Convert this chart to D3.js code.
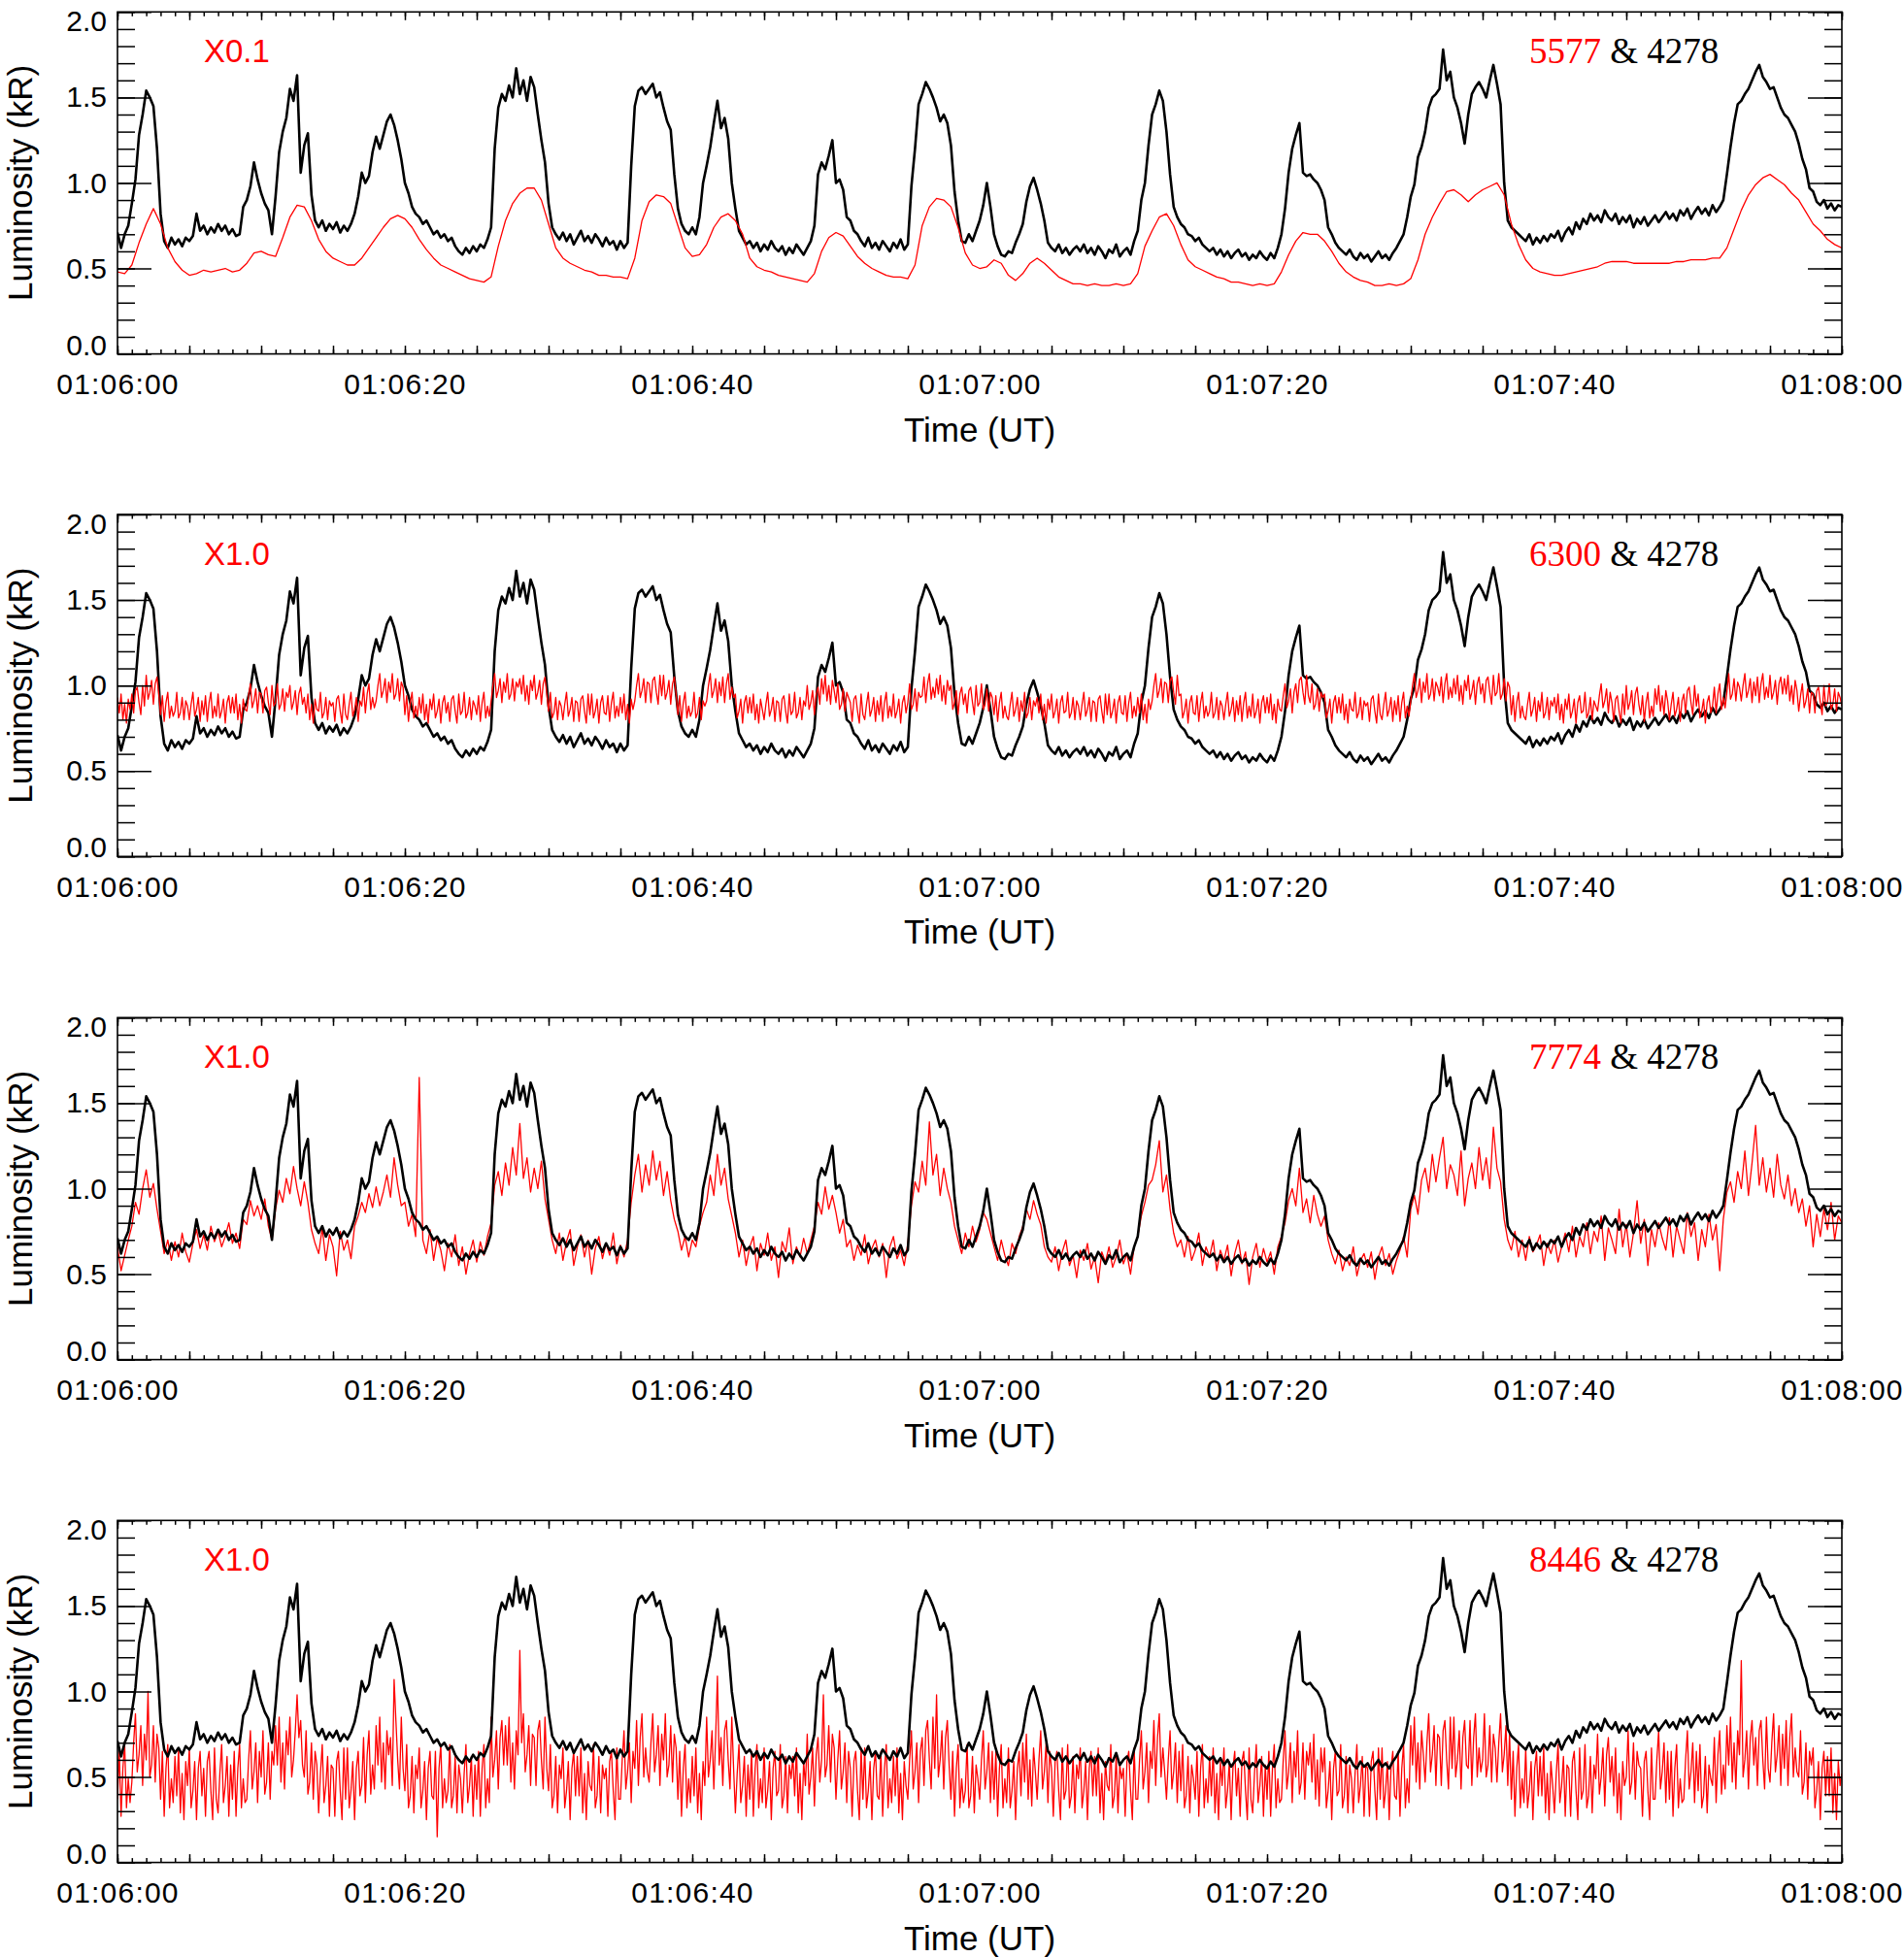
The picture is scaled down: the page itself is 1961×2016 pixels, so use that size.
<!DOCTYPE html>
<html><head><meta charset="utf-8">
<script src="https://cdn.jsdelivr.net/npm/d3@7"></script>
<style>html,body{margin:0;padding:0;background:#fff;}svg{display:block;}</style>
</head><body>
<svg id="chart" width="1961" height="2016"></svg>
<script>
// ---------------- data ----------------
const timeStart = 0, timeEnd = 120;           // seconds after 01:06:00 UT
const xTickSeconds = [0,20,40,60,80,100,120];
const xTickLabels = ["01:06:00","01:06:20","01:06:40","01:07:00","01:07:20","01:07:40","01:08:00"];
const yTickValues = [0,0.5,1.0,1.5,2.0];
const yTickLabels = ["0.0","0.5","1.0","1.5","2.0"];
const redLines = ["5577","6300","7774","8446"];
const redFactors = ["X0.1","X1.0","X1.0","X1.0"];
const blackLine = "4278";

// 4278 (kR), every 0.25 s
const lum4278 = [
0.71,0.62,0.70,0.75, 0.88,1.02,1.28,1.40,
1.54,1.50,1.45,1.20, 0.82,0.66,0.62,0.68,
0.64,0.67,0.63,0.68, 0.66,0.69,0.82,0.72,
0.75,0.70,0.74,0.71, 0.76,0.72,0.75,0.70,
0.73,0.69,0.70,0.86, 0.90,0.98,1.12,1.02,
0.94,0.88,0.84,0.70, 0.92,1.18,1.30,1.38,
1.55,1.48,1.63,1.06, 1.22,1.29,0.93,0.78,
0.74,0.78,0.72,0.76, 0.73,0.77,0.71,0.75,
0.72,0.76,0.82,0.92, 1.06,1.00,1.04,1.18,
1.27,1.20,1.28,1.36, 1.40,1.34,1.25,1.14,
1.00,0.94,0.86,0.82, 0.80,0.76,0.78,0.74,
0.70,0.72,0.68,0.70, 0.66,0.68,0.63,0.60,
0.58,0.62,0.59,0.63, 0.60,0.64,0.62,0.67,
0.74,1.20,1.44,1.52, 1.48,1.57,1.50,1.67,
1.52,1.60,1.48,1.62, 1.56,1.40,1.25,1.12,
0.88,0.74,0.70,0.67, 0.71,0.66,0.70,0.64,
0.68,0.72,0.66,0.69, 0.65,0.70,0.67,0.63,
0.68,0.64,0.66,0.61, 0.66,0.62,0.65,1.10,
1.45,1.54,1.56,1.52, 1.55,1.58,1.50,1.53,
1.44,1.36,1.31,1.05, 0.85,0.76,0.72,0.70,
0.74,0.70,0.80,1.00, 1.10,1.21,1.35,1.48,
1.32,1.38,1.26,1.00, 0.85,0.72,0.68,0.64,
0.66,0.62,0.65,0.60, 0.64,0.61,0.66,0.62,
0.60,0.63,0.58,0.62, 0.59,0.64,0.61,0.58,
0.62,0.66,0.75,1.05, 1.12,1.08,1.16,1.25,
1.00,1.02,0.96,0.80, 0.78,0.72,0.70,0.66,
0.63,0.68,0.62,0.65, 0.61,0.66,0.63,0.60,
0.65,0.62,0.67,0.61, 0.64,0.98,1.20,1.46,
1.52,1.59,1.55,1.50, 1.44,1.36,1.40,1.35,
1.22,0.95,0.78,0.66, 0.65,0.70,0.66,0.72,
0.78,0.87,1.00,0.86, 0.70,0.63,0.58,0.57,
0.60,0.59,0.65,0.70, 0.76,0.89,0.98,1.03,
0.96,0.88,0.78,0.65, 0.62,0.60,0.64,0.59,
0.62,0.58,0.61,0.63, 0.60,0.64,0.59,0.62,
0.58,0.63,0.60,0.56, 0.61,0.59,0.64,0.57,
0.60,0.62,0.58,0.66, 0.72,0.90,1.00,1.22,
1.40,1.46,1.54,1.48, 1.30,1.05,0.86,0.80,
0.76,0.74,0.70,0.69, 0.66,0.68,0.64,0.62,
0.60,0.62,0.58,0.61, 0.57,0.60,0.56,0.59,
0.61,0.57,0.59,0.55, 0.58,0.56,0.60,0.57,
0.55,0.59,0.56,0.62, 0.70,0.85,1.06,1.20,
1.28,1.35,1.06,1.04, 1.05,1.02,1.00,0.96,
0.90,0.74,0.70,0.65, 0.62,0.60,0.58,0.61,
0.57,0.55,0.59,0.56, 0.58,0.54,0.57,0.60,
0.56,0.58,0.55,0.59, 0.62,0.66,0.70,0.80,
0.92,0.99,1.15,1.21, 1.30,1.44,1.50,1.52,
1.55,1.78,1.60,1.65, 1.50,1.44,1.35,1.23,
1.40,1.52,1.56,1.59, 1.55,1.50,1.60,1.69,
1.58,1.46,1.00,0.78, 0.74,0.72,0.70,0.68,
0.66,0.70,0.64,0.68, 0.65,0.69,0.66,0.70,
0.68,0.72,0.66,0.71, 0.74,0.70,0.77,0.73,
0.79,0.76,0.82,0.78, 0.81,0.77,0.84,0.80,
0.78,0.82,0.76,0.80, 0.77,0.81,0.74,0.79,
0.76,0.80,0.75,0.78, 0.81,0.77,0.80,0.83,
0.79,0.82,0.78,0.84, 0.81,0.85,0.79,0.83,
0.86,0.82,0.85,0.81, 0.87,0.83,0.86,0.90,
1.05,1.21,1.35,1.46, 1.48,1.52,1.55,1.60,
1.65,1.69,1.62,1.59, 1.55,1.56,1.50,1.44,
1.40,1.38,1.34,1.30, 1.23,1.14,1.08,0.97,
0.95,0.89,0.87,0.90, 0.85,0.88,0.84,0.87,
0.86];

// 5577 x0.1 (kR), every 0.5 s
const lum5577 = [
0.48,0.47,0.52,0.65,0.76,0.85,0.76,0.62,0.54,0.49,0.46,0.47,0.49,0.48,0.49,0.50,0.48,0.49,0.53,0.59,
0.60,0.58,0.57,0.68,0.80,0.87,0.86,0.78,0.67,0.60,0.56,0.54,0.52,0.52,0.56,0.62,0.68,0.74,0.79,0.81,
0.79,0.74,0.67,0.61,0.56,0.52,0.50,0.48,0.46,0.44,0.43,0.42,0.45,0.63,0.78,0.88,0.94,0.97,0.97,0.90,
0.76,0.62,0.56,0.53,0.51,0.49,0.48,0.46,0.46,0.45,0.45,0.44,0.56,0.78,0.89,0.93,0.92,0.88,0.75,0.62,
0.57,0.58,0.64,0.74,0.80,0.82,0.78,0.70,0.56,0.51,0.49,0.48,0.46,0.45,0.44,0.43,0.42,0.47,0.60,0.68,
0.71,0.69,0.63,0.57,0.53,0.50,0.48,0.46,0.45,0.45,0.44,0.52,0.75,0.86,0.91,0.90,0.86,0.74,0.59,0.52,
0.50,0.51,0.55,0.53,0.46,0.43,0.47,0.53,0.56,0.53,0.49,0.45,0.43,0.41,0.41,0.40,0.41,0.40,0.40,0.41,
0.40,0.41,0.47,0.63,0.72,0.80,0.82,0.75,0.64,0.55,0.51,0.49,0.47,0.45,0.44,0.42,0.42,0.41,0.40,0.41,
0.40,0.41,0.48,0.58,0.66,0.71,0.70,0.70,0.66,0.60,0.53,0.48,0.45,0.43,0.42,0.40,0.40,0.41,0.40,0.41,
0.44,0.55,0.70,0.80,0.88,0.95,0.96,0.93,0.89,0.93,0.96,0.98,1.00,0.93,0.76,0.64,0.55,0.50,0.48,0.47,
0.46,0.46,0.47,0.48,0.49,0.50,0.51,0.53,0.54,0.54,0.54,0.53,0.53,0.53,0.53,0.53,0.53,0.54,0.54,0.55,
0.55,0.55,0.56,0.56,0.62,0.73,0.84,0.93,0.99,1.03,1.05,1.02,0.99,0.94,0.90,0.83,0.76,0.72,0.67,0.64,
0.62];

// 6300 (kR), every 0.125 s
const lum6300 = [
0.93,0.84,0.95,0.80,0.89,0.78,0.92,0.86, 0.95,0.84,0.97,0.99,0.90,0.83,1.00,0.88,
1.06,0.92,0.96,1.03,0.89,1.01,1.05,0.95, 0.83,0.94,0.79,0.90,0.96,0.81,0.88,0.82,
0.85,0.96,0.81,0.84,0.93,0.80,0.91,0.88, 0.80,0.89,0.96,0.82,0.86,0.93,0.79,0.91,
0.83,0.94,0.79,0.90,0.96,0.81,0.88,0.82, 0.95,0.81,0.85,0.92,0.78,0.90,0.94,0.84,
0.93,0.84,0.95,0.80,0.89,0.78,0.92,0.86, 0.85,0.94,1.01,0.87,0.91,0.98,0.84,0.96,
0.95,0.84,0.97,0.99,0.90,0.83,1.00,0.88, 0.90,1.01,0.86,0.89,0.98,0.85,0.96,0.93,
1.00,0.86,0.90,0.97,0.83,0.95,0.99,0.89, 0.93,0.84,0.95,0.80,0.89,0.78,0.92,0.86,
0.85,0.96,0.81,0.84,0.93,0.80,0.91,0.88, 0.90,0.79,0.92,0.94,0.85,0.78,0.95,0.83,
0.80,0.89,0.96,0.82,0.86,0.93,0.79,0.91, 0.88,0.99,0.84,0.95,1.01,0.86,0.93,0.87,
0.91,1.00,1.07,0.93,0.97,1.04,0.90,1.02, 0.96,1.07,0.92,0.95,1.04,0.91,1.02,0.99,
0.83,0.94,0.79,0.90,0.96,0.81,0.88,0.82, 0.93,0.84,0.95,0.80,0.89,0.78,0.92,0.86,
0.95,0.81,0.85,0.92,0.78,0.90,0.94,0.84, 0.90,0.79,0.92,0.94,0.85,0.78,0.95,0.83,
0.85,0.96,0.81,0.84,0.93,0.80,0.91,0.88, 0.83,0.94,0.79,0.90,0.96,0.81,0.88,0.82,
0.91,1.00,1.07,0.93,0.97,1.04,0.90,1.02, 0.96,1.07,0.92,0.95,1.04,0.91,1.02,0.99,
1.04,0.95,1.06,0.91,1.00,0.89,1.03,0.97, 1.06,0.92,0.96,1.03,0.89,1.01,1.05,0.95,
0.85,0.96,0.81,0.84,0.93,0.80,0.91,0.88, 0.80,0.89,0.96,0.82,0.86,0.93,0.79,0.91,
0.90,0.79,0.92,0.94,0.85,0.78,0.95,0.83, 0.95,0.81,0.85,0.92,0.78,0.90,0.94,0.84,
0.83,0.94,0.79,0.90,0.96,0.81,0.88,0.82, 0.93,0.84,0.95,0.80,0.89,0.78,0.92,0.86,
0.91,1.00,1.07,0.93,0.97,1.04,0.90,1.02, 1.01,0.90,1.03,1.05,0.96,0.89,1.06,0.94,
1.06,0.92,0.96,1.03,0.89,1.01,1.05,0.95, 0.83,0.94,0.79,0.90,0.96,0.81,0.88,0.82,
0.85,0.96,0.81,0.84,0.93,0.80,0.91,0.88, 0.91,1.00,1.07,0.93,0.97,1.04,0.90,1.02,
0.94,1.05,0.90,1.01,1.07,0.92,0.99,0.93, 0.95,0.81,0.85,0.92,0.78,0.90,0.94,0.84,
0.93,0.84,0.95,0.80,0.89,0.78,0.92,0.86, 0.80,0.89,0.96,0.82,0.86,0.93,0.79,0.91,
0.90,0.79,0.92,0.94,0.85,0.78,0.95,0.83, 0.85,0.96,0.81,0.84,0.93,0.80,0.91,0.88,
1.00,0.86,0.90,0.97,0.83,0.95,0.99,0.89, 1.04,0.95,1.06,0.91,1.00,0.89,1.03,0.97,
0.90,1.01,0.86,0.89,0.98,0.85,0.96,0.93, 0.90,0.79,0.92,0.94,0.85,0.78,0.95,0.83,
0.80,0.89,0.96,0.82,0.86,0.93,0.79,0.91, 0.83,0.94,0.79,0.90,0.96,0.81,0.88,0.82,
0.95,0.81,0.85,0.92,0.78,0.90,0.94,0.84, 0.90,1.01,0.86,0.89,0.98,0.85,0.96,0.93,
0.94,1.05,0.90,1.01,1.07,0.92,0.99,0.93, 1.04,0.95,1.06,0.91,1.00,0.89,1.03,0.97,
1.00,0.86,0.90,0.97,0.83,0.95,0.99,0.89, 0.95,0.84,0.97,0.99,0.90,0.83,1.00,0.88,
0.90,1.01,0.86,0.89,0.98,0.85,0.96,0.93, 0.83,0.94,0.79,0.90,0.96,0.81,0.88,0.82,
0.80,0.89,0.96,0.82,0.86,0.93,0.79,0.91, 0.85,0.96,0.81,0.84,0.93,0.80,0.91,0.88,
0.93,0.84,0.95,0.80,0.89,0.78,0.92,0.86, 0.95,0.81,0.85,0.92,0.78,0.90,0.94,0.84,
0.85,0.96,0.81,0.84,0.93,0.80,0.91,0.88, 0.80,0.89,0.96,0.82,0.86,0.93,0.79,0.91,
0.90,0.79,0.92,0.94,0.85,0.78,0.95,0.83, 0.95,0.81,0.85,0.92,0.78,0.90,0.94,0.84,
0.83,0.94,0.79,0.90,0.96,0.81,0.88,0.82, 0.93,0.84,0.95,0.80,0.89,0.78,0.92,0.86,
0.91,1.00,1.07,0.93,0.97,1.04,0.90,1.02, 1.01,0.90,1.03,1.05,0.96,0.89,1.06,0.94,
0.95,0.81,0.85,0.92,0.78,0.90,0.94,0.84, 0.83,0.94,0.79,0.90,0.96,0.81,0.88,0.82,
0.85,0.96,0.81,0.84,0.93,0.80,0.91,0.88, 0.80,0.89,0.96,0.82,0.86,0.93,0.79,0.91,
0.83,0.94,0.79,0.90,0.96,0.81,0.88,0.82, 0.95,0.81,0.85,0.92,0.78,0.90,0.94,0.84,
0.93,0.84,0.95,0.80,0.89,0.78,0.92,0.86, 0.85,0.94,1.01,0.87,0.91,0.98,0.84,0.96,
1.01,0.90,1.03,1.05,0.96,0.89,1.06,0.94, 0.90,1.01,0.86,0.89,0.98,0.85,0.96,0.93,
0.95,0.81,0.85,0.92,0.78,0.90,0.94,0.84, 0.93,0.84,0.95,0.80,0.89,0.78,0.92,0.86,
0.85,0.96,0.81,0.84,0.93,0.80,0.91,0.88, 0.90,0.79,0.92,0.94,0.85,0.78,0.95,0.83,
0.80,0.89,0.96,0.82,0.86,0.93,0.79,0.91, 0.83,0.94,0.79,0.90,0.96,0.81,0.88,0.82,
0.91,1.00,1.07,0.93,0.97,1.04,0.90,1.02, 0.96,1.07,0.92,0.95,1.04,0.91,1.02,0.99,
0.94,1.05,0.90,1.01,1.07,0.92,0.99,0.93, 1.04,0.95,1.06,0.91,1.00,0.89,1.03,0.97,
1.06,0.92,0.96,1.03,0.89,1.01,1.05,0.95, 1.01,0.90,1.03,1.05,0.96,0.89,1.06,0.94,
0.96,1.07,0.92,0.95,1.04,0.91,1.02,0.99, 0.83,0.94,0.79,0.90,0.96,0.81,0.88,0.82,
0.80,0.89,0.96,0.82,0.86,0.93,0.79,0.91, 0.85,0.96,0.81,0.84,0.93,0.80,0.91,0.88,
0.93,0.84,0.95,0.80,0.89,0.78,0.92,0.86, 0.95,0.81,0.85,0.92,0.78,0.90,0.94,0.84,
0.85,0.96,0.81,0.84,0.93,0.80,0.91,0.88, 0.85,0.94,1.01,0.87,0.91,0.98,0.84,0.96,
0.90,0.79,0.92,0.94,0.85,0.78,0.95,0.83, 1.00,0.86,0.90,0.97,0.83,0.95,0.99,0.89,
0.83,0.94,0.79,0.90,0.96,0.81,0.88,0.82, 0.98,0.89,1.00,0.85,0.94,0.83,0.97,0.91,
0.80,0.89,0.96,0.82,0.86,0.93,0.79,0.91, 0.95,0.84,0.97,0.99,0.90,0.83,1.00,0.88,
0.95,0.81,0.85,0.92,0.78,0.90,0.94,0.84, 0.88,0.99,0.84,0.95,1.01,0.86,0.93,0.87,
0.96,1.07,0.92,0.95,1.04,0.91,1.02,0.99, 0.91,1.00,1.07,0.93,0.97,1.04,0.90,1.02,
0.94,1.05,0.90,1.01,1.07,0.92,0.99,0.93, 1.06,0.92,0.96,1.03,0.89,1.01,1.05,0.95,
1.04,0.95,1.06,0.91,1.00,0.89,1.03,0.97, 0.85,0.94,1.01,0.87,0.91,0.98,0.84,0.96,
0.95,0.84,0.97,0.99,0.90,0.83,1.00,0.88, 0.90,1.01,0.86,0.89,0.98,0.85,0.96,0.93,
0.88];

// 7774 (kR), every 0.25 s
const lum7774 = [
0.66,0.52,0.61,0.70, 0.78,0.92,0.85,1.00,
1.11,0.95,1.03,0.88, 0.75,0.62,0.70,0.58,
0.69,0.60,0.74,0.63, 0.57,0.68,0.76,0.65,
0.73,0.64,0.78,0.69, 0.75,0.66,0.72,0.80,
0.68,0.74,0.65,0.82, 0.79,0.93,0.84,0.90,
0.82,0.94,0.78,0.70, 0.88,0.99,0.92,1.06,
0.97,1.13,1.00,0.90, 1.04,0.92,0.76,0.68,
0.62,0.77,0.58,0.73, 0.66,0.49,0.75,0.64,
0.70,0.59,0.78,0.84, 0.92,0.86,0.97,0.89,
1.01,0.90,0.98,1.08, 0.95,1.18,1.02,0.90,
0.92,0.78,0.85,0.72, 1.65,0.70,0.62,0.76,
0.58,0.71,0.64,0.52, 0.68,0.60,0.73,0.55,
0.66,0.50,0.62,0.70, 0.57,0.69,0.61,0.72,
0.80,1.02,1.10,0.96, 1.15,1.02,1.24,1.08,
1.38,1.06,1.18,0.98, 1.12,1.00,1.16,0.94,
0.82,0.70,0.62,0.74, 0.58,0.69,0.76,0.55,
0.66,0.73,0.60,0.70, 0.50,0.65,0.72,0.59,
0.68,0.61,0.74,0.56, 0.67,0.60,0.70,0.92,
1.08,1.20,0.98,1.14, 1.02,1.22,1.05,1.16,
0.96,1.10,0.93,0.82, 0.75,0.64,0.72,0.60,
0.70,0.66,0.78,0.86, 0.92,1.08,0.96,1.20,
1.02,1.12,0.94,0.84, 0.74,0.60,0.70,0.55,
0.66,0.72,0.52,0.68, 0.61,0.74,0.58,0.66,
0.48,0.69,0.63,0.77, 0.56,0.66,0.60,0.71,
0.62,0.70,0.78,0.92, 0.85,1.01,0.88,0.96,
0.86,0.74,0.82,0.66, 0.70,0.58,0.67,0.61,
0.73,0.56,0.65,0.70, 0.60,0.68,0.48,0.66,
0.72,0.59,0.64,0.55, 0.68,0.90,1.04,0.98,
1.16,1.02,1.39,1.08, 1.20,0.96,1.12,1.00,
0.92,0.78,0.70,0.62, 0.74,0.66,0.78,0.69,
0.76,0.86,0.82,0.74, 0.66,0.58,0.70,0.61,
0.55,0.68,0.62,0.72, 0.78,0.88,0.82,0.93,
0.85,0.79,0.66,0.60, 0.57,0.66,0.52,0.63,
0.70,0.55,0.61,0.48, 0.64,0.58,0.68,0.53,
0.60,0.45,0.63,0.57, 0.66,0.54,0.60,0.70,
0.56,0.62,0.50,0.66, 0.72,0.84,0.92,1.02,
1.05,1.14,1.28,0.98, 1.08,0.88,0.74,0.66,
0.70,0.60,0.72,0.58, 0.64,0.74,0.55,0.66,
0.60,0.70,0.52,0.64, 0.58,0.67,0.49,0.62,
0.70,0.56,0.63,0.44, 0.60,0.68,0.54,0.65,
0.57,0.63,0.50,0.66, 0.72,0.80,0.93,1.00,
0.90,1.12,0.86,0.94, 0.80,0.96,0.85,0.78,
0.84,0.70,0.62,0.56, 0.64,0.52,0.60,0.55,
0.66,0.49,0.58,0.62, 0.54,0.63,0.47,0.60,
0.66,0.55,0.62,0.50, 0.58,0.64,0.72,0.60,
0.88,0.96,0.85,1.05, 1.12,0.98,1.20,1.04,
1.18,1.30,1.00,1.14, 1.08,0.96,1.22,0.90,
1.06,1.15,1.00,1.24, 1.05,1.18,1.00,1.36,
1.12,1.04,0.82,0.70, 0.64,0.75,0.60,0.70,
0.58,0.72,0.63,0.67, 0.73,0.55,0.68,0.62,
0.70,0.57,0.66,0.74, 0.63,0.78,0.60,0.72,
0.66,0.80,0.62,0.75, 0.69,0.84,0.58,0.77,
0.70,0.62,0.88,0.66, 0.79,0.60,0.74,0.93,
0.68,0.82,0.55,0.76, 0.66,0.80,0.71,0.64,
0.83,0.60,0.78,0.70, 0.62,0.86,0.72,0.80,
0.58,0.76,0.66,0.85, 0.70,0.79,0.52,0.82,
0.98,1.04,0.92,1.10, 1.00,1.22,0.96,1.15,
1.37,1.02,1.18,0.98, 1.12,0.95,1.20,1.02,
0.94,1.08,0.90,1.00, 0.86,0.94,0.78,0.90,
0.66,0.85,0.72,0.88, 0.76,0.92,0.70,0.84,
0.80];

// 8446 (kR), every 0.125 s
const lum8446 = [
0.37,0.65,0.27,0.55,0.69,0.32,0.49,0.35, 0.47,0.70,0.87,0.53,0.63,0.80,0.45,0.75,
0.60,1.00,0.50,0.57,0.80,0.47,0.75,0.67, 0.37,0.65,0.27,0.55,0.69,0.32,0.49,0.35,
0.62,0.39,0.67,0.29,0.52,0.25,0.59,0.45, 0.67,0.32,0.42,0.59,0.25,0.55,0.65,0.39,
0.55,0.27,0.59,0.65,0.42,0.25,0.67,0.37, 0.29,0.52,0.69,0.35,0.45,0.62,0.27,0.57,
0.37,0.65,0.27,0.55,0.69,0.32,0.49,0.35, 0.37,0.60,0.77,0.43,0.53,0.70,0.35,0.65,
0.50,0.77,0.40,0.47,0.70,0.37,0.65,0.57, 0.80,0.57,0.85,0.47,0.70,0.43,0.77,0.63,
0.85,0.50,0.60,0.77,0.98,0.73,0.83,0.57, 0.50,0.77,0.40,0.47,0.70,0.37,0.65,0.57,
0.29,0.52,0.69,0.35,0.45,0.62,0.27,0.57, 0.55,0.27,0.59,0.65,0.42,0.25,0.67,0.37,
0.67,0.32,0.42,0.59,0.25,0.55,0.65,0.39, 0.45,0.73,0.35,0.63,0.77,0.40,0.57,0.43,
0.80,0.57,0.85,0.47,0.70,0.43,0.77,0.63, 0.73,0.45,1.07,0.83,0.60,0.43,0.85,0.55,
0.42,0.69,0.32,0.39,0.62,0.29,0.57,0.49, 0.67,0.32,0.42,0.59,0.25,0.55,0.65,0.39,
0.37,0.65,0.15,0.55,0.69,0.32,0.49,0.35, 0.42,0.69,0.32,0.39,0.62,0.29,0.57,0.49,
0.29,0.52,0.69,0.35,0.45,0.62,0.27,0.57, 0.37,0.65,0.27,0.55,0.69,0.32,0.49,0.35,
0.85,0.50,0.60,0.77,0.43,0.73,0.83,0.57, 0.80,0.57,0.85,0.47,0.70,0.43,0.77,0.63,
1.24,0.70,0.87,0.53,0.63,0.80,0.45,0.75, 0.73,0.45,0.77,0.83,0.60,0.43,0.85,0.55,
0.42,0.69,0.32,0.39,0.62,0.29,0.57,0.49, 0.67,0.32,0.42,0.59,0.25,0.55,0.65,0.39,
0.62,0.39,0.67,0.29,0.52,0.25,0.59,0.45, 0.42,0.69,0.32,0.39,0.62,0.29,0.57,0.49,
0.55,0.27,0.59,0.65,0.42,0.25,0.67,0.37, 0.37,0.60,0.77,0.43,0.53,0.70,0.35,0.65,
0.55,0.83,0.45,0.73,0.87,0.50,0.67,0.53, 0.47,0.70,0.87,0.53,0.63,0.80,0.45,0.75,
0.60,0.87,0.50,0.57,0.80,0.47,0.75,0.67, 0.37,0.65,0.27,0.55,0.69,0.32,0.49,0.35,
0.62,0.39,0.67,0.29,0.52,0.25,0.59,0.45, 0.85,0.50,0.60,0.77,0.43,0.73,1.09,0.57,
0.73,0.45,0.77,0.83,0.60,0.43,0.85,0.55, 0.29,0.52,0.69,0.35,0.45,0.62,0.27,0.57,
0.37,0.65,0.27,0.55,0.69,0.32,0.49,0.35, 0.67,0.32,0.42,0.59,0.25,0.55,0.65,0.39,
0.42,0.69,0.32,0.39,0.62,0.29,0.57,0.49, 0.62,0.39,0.67,0.29,0.52,0.25,0.59,0.45,
0.75,0.40,0.50,0.67,0.33,0.63,0.73,0.47, 0.60,0.98,0.50,0.57,0.80,0.47,0.75,0.67,
0.37,0.60,0.77,0.43,0.53,0.70,0.35,0.65, 0.55,0.27,0.59,0.65,0.42,0.25,0.67,0.37,
0.67,0.32,0.42,0.59,0.25,0.55,0.65,0.39, 0.37,0.65,0.27,0.55,0.69,0.32,0.49,0.35,
0.62,0.39,0.67,0.29,0.52,0.25,0.59,0.45, 0.37,0.60,0.77,0.43,0.53,0.70,0.35,0.65,
0.73,0.45,0.77,0.83,0.60,0.43,0.85,0.55, 0.98,0.50,0.60,0.77,0.43,0.73,0.83,0.57,
0.37,0.65,0.27,0.55,0.69,0.32,0.49,0.35, 0.42,0.69,0.32,0.39,0.62,0.29,0.57,0.49,
0.37,0.60,0.77,0.43,0.53,0.70,0.35,0.65, 0.37,0.65,0.27,0.55,0.69,0.32,0.49,0.35,
0.67,0.32,0.42,0.59,0.25,0.55,0.65,0.39, 0.70,0.47,0.75,0.37,0.60,0.33,0.67,0.53,
0.37,0.60,0.77,0.43,0.53,0.70,0.35,0.65, 0.55,0.27,0.59,0.65,0.42,0.25,0.67,0.37,
0.42,0.69,0.32,0.39,0.62,0.29,0.57,0.49, 0.67,0.32,0.42,0.59,0.25,0.55,0.65,0.39,
0.62,0.39,0.67,0.29,0.52,0.25,0.59,0.45, 0.42,0.69,0.32,0.39,0.62,0.29,0.57,0.49,
0.55,0.27,0.59,0.65,0.42,0.25,0.67,0.37, 0.37,0.60,0.77,0.43,0.53,0.70,0.35,0.65,
0.55,0.83,0.45,0.73,0.87,0.50,0.67,0.53, 0.37,0.60,0.77,0.43,0.53,0.70,0.35,0.65,
0.42,0.69,0.32,0.39,0.62,0.29,0.57,0.49, 0.37,0.65,0.27,0.55,0.69,0.32,0.49,0.35,
0.62,0.39,0.67,0.29,0.52,0.25,0.59,0.45, 0.67,0.32,0.42,0.59,0.25,0.55,0.65,0.39,
0.55,0.27,0.59,0.65,0.42,0.25,0.67,0.37, 0.29,0.52,0.69,0.35,0.45,0.62,0.27,0.57,
0.37,0.65,0.27,0.55,0.69,0.32,0.49,0.35, 0.37,0.60,0.77,0.43,0.53,0.70,0.35,0.65,
0.50,0.77,0.40,0.47,0.70,0.37,0.65,0.57, 0.70,0.47,0.75,0.37,0.60,0.33,0.67,0.53,
0.67,0.32,0.42,0.59,0.25,0.55,0.65,0.39, 0.42,0.69,0.32,0.39,0.62,0.29,0.57,0.49,
0.29,0.52,0.69,0.35,0.45,0.62,0.27,0.57, 0.55,0.27,0.59,0.65,0.42,0.25,0.67,0.37,
0.67,0.32,0.42,0.59,0.25,0.55,0.65,0.39, 0.37,0.65,0.27,0.55,0.69,0.32,0.49,0.35,
0.80,0.57,0.85,0.47,0.70,0.43,0.77,0.63, 0.47,0.70,0.87,0.53,0.63,0.80,0.45,0.75,
0.73,0.45,0.77,0.83,0.60,0.43,0.85,0.55, 0.85,0.50,0.60,0.77,0.43,0.73,0.83,0.57,
0.55,0.83,0.45,0.73,0.87,0.50,0.67,0.53, 0.60,0.87,0.50,0.57,0.80,0.47,0.75,0.67,
0.47,0.70,0.87,0.53,0.63,0.80,0.45,0.75, 0.37,0.65,0.27,0.55,0.69,0.32,0.49,0.35,
0.67,0.32,0.42,0.59,0.25,0.55,0.65,0.39, 0.62,0.39,0.67,0.29,0.52,0.25,0.59,0.45,
0.29,0.52,0.69,0.35,0.45,0.62,0.27,0.57, 0.55,0.27,0.59,0.65,0.42,0.25,0.67,0.37,
0.42,0.69,0.32,0.39,0.62,0.29,0.57,0.49, 0.75,0.40,0.50,0.67,0.33,0.63,0.73,0.47,
0.62,0.39,0.67,0.29,0.52,0.25,0.59,0.45, 0.50,0.77,0.40,0.47,0.70,0.37,0.65,0.57,
0.55,0.27,0.59,0.65,0.42,0.25,0.67,0.37, 0.37,0.60,0.77,0.43,0.53,0.70,0.35,0.65,
0.37,0.65,0.27,0.55,0.69,0.32,0.49,0.35, 0.37,0.60,0.77,0.43,0.53,0.70,0.35,0.65,
0.42,0.69,0.32,0.39,0.62,0.29,0.57,0.49, 0.45,0.73,0.35,0.63,0.77,0.40,0.57,0.43,
0.80,0.57,0.85,0.47,0.70,0.43,0.77,0.63, 1.18,0.50,0.60,0.77,0.43,0.73,0.83,0.57,
0.73,0.45,0.77,0.83,0.60,0.43,0.85,0.55, 0.47,0.70,0.87,0.53,0.63,0.80,0.45,0.75,
0.55,0.83,0.45,0.73,0.87,0.50,0.67,0.53, 0.50,0.77,0.40,0.47,0.70,0.37,0.65,0.57,
0.67,0.32,0.42,0.59,0.25,0.55,0.65,0.39, 0.62,0.39,0.67,0.29,0.52,0.25,0.59,0.45,
0.52];

const redSeries = [lum5577, lum6300, lum7774, lum8446];

// ---------------- layout ----------------
const plotLeft = 121, plotRight = 1897, plotH = 352.3;
const panelTops = [12.3, 530, 1048.3, 1566.3];
const redOnTop = [true, true, false, false];
const sans = "'Liberation Sans', Arial, Helvetica, sans-serif";
const serif = "'Liberation Serif', 'Times New Roman', Times, serif";

const svg = d3.select("#chart");
const x = d3.scaleLinear().domain([timeStart, timeEnd]).range([plotLeft, plotRight]);

function cleanAxis(sel) {
  sel.select(".domain").remove();
  sel.selectAll(".tick line").attr("stroke", "#000").attr("stroke-width", 1.5);
}

redSeries.forEach((red, i) => {
  const top = panelTops[i], bottom = top + plotH;
  const y = d3.scaleLinear().domain([0, 2]).range([bottom, top]);
  const g = svg.append("g");

  const clipId = "clip" + i;
  g.append("clipPath").attr("id", clipId).append("rect")
    .attr("x", plotLeft).attr("y", top).attr("width", plotRight - plotLeft).attr("height", plotH);

  const lineFor = arr => {
    const dt = (timeEnd - timeStart) / (arr.length - 1);
    return d3.line().x((d, k) => x(timeStart + k * dt)).y(d => y(d));
  };
  const dataG = g.append("g").attr("clip-path", `url(#${clipId})`);
  const drawRed = () => dataG.append("path").datum(red).attr("d", lineFor(red))
    .attr("fill", "none").attr("stroke", "#ff0000").attr("stroke-width", 1.3).attr("stroke-linejoin", "round");
  const drawBlack = () => dataG.append("path").datum(lum4278).attr("d", lineFor(lum4278))
    .attr("fill", "none").attr("stroke", "#000").attr("stroke-width", 2.6).attr("stroke-linejoin", "round");
  if (redOnTop[i]) { drawBlack(); drawRed(); } else { drawRed(); drawBlack(); }

  // x ticks (bottom / top), inward
  const secMinor = d3.range(timeStart, timeEnd + 1, 1);
  const secMajor = d3.range(timeStart, timeEnd + 1, 5);
  g.append("g").attr("transform", `translate(0,${bottom})`)
    .call(d3.axisBottom(x).tickValues(secMinor).tickSize(-4.5).tickFormat("")).call(cleanAxis);
  g.append("g").attr("transform", `translate(0,${bottom})`)
    .call(d3.axisBottom(x).tickValues(secMajor).tickSize(-8.5).tickFormat("")).call(cleanAxis);
  g.append("g").attr("transform", `translate(0,${top})`)
    .call(d3.axisTop(x).tickValues(secMinor).tickSize(-4.5).tickFormat("")).call(cleanAxis);
  g.append("g").attr("transform", `translate(0,${top})`)
    .call(d3.axisTop(x).tickValues(secMajor).tickSize(-8.5).tickFormat("")).call(cleanAxis);
  // x labels
  const xl = g.append("g").attr("transform", `translate(0,${bottom})`)
    .call(d3.axisBottom(x).tickValues(xTickSeconds).tickSize(0).tickPadding(20)
      .tickFormat((d, k) => xTickLabels[k]));
  xl.select(".domain").remove();
  xl.attr("font-family", sans).attr("font-size", 30);
  xl.selectAll("text").attr("fill", "#000").style("letter-spacing", "1.2px");

  // y ticks (left / right), inward
  const yMinor = d3.range(0, 2.0001, 0.1);
  g.append("g").attr("transform", `translate(${plotLeft},0)`)
    .call(d3.axisLeft(y).tickValues(yMinor).tickSize(-18).tickFormat("")).call(cleanAxis);
  g.append("g").attr("transform", `translate(${plotLeft},0)`)
    .call(d3.axisLeft(y).tickValues(yTickValues).tickSize(-35).tickFormat("")).call(cleanAxis);
  g.append("g").attr("transform", `translate(${plotRight},0)`)
    .call(d3.axisRight(y).tickValues(yMinor).tickSize(-18).tickFormat("")).call(cleanAxis);
  g.append("g").attr("transform", `translate(${plotRight},0)`)
    .call(d3.axisRight(y).tickValues(yTickValues).tickSize(-35).tickFormat("")).call(cleanAxis);
  const yl = g.append("g").attr("transform", `translate(${plotLeft},0)`)
    .call(d3.axisLeft(y).tickValues(yTickValues).tickSize(0).tickPadding(11)
      .tickFormat((d, k) => yTickLabels[k]));
  yl.select(".domain").remove();
  yl.attr("font-family", sans).attr("font-size", 30);
  yl.selectAll("text").attr("fill", "#000")
    .attr("y", d => d === 0 ? -9 : (d === 2 ? 9.5 : 0));

  // frame
  g.append("rect").attr("x", plotLeft).attr("y", top).attr("width", plotRight - plotLeft).attr("height", plotH)
    .attr("fill", "none").attr("stroke", "#000").attr("stroke-width", 1.6);

  // axis titles
  g.append("text").attr("x", (plotLeft + plotRight) / 2).attr("y", bottom + 90)
    .attr("text-anchor", "middle").attr("font-family", sans).attr("font-size", 35).attr("fill", "#000")
    .text("Time (UT)");
  g.append("text").attr("transform", `translate(33,${(top + bottom) / 2}) rotate(-90)`)
    .attr("text-anchor", "middle").attr("font-family", sans).attr("font-size", 35).attr("fill", "#000")
    .text("Luminosity (kR)");

  // scale factor and legend
  g.append("text").attr("x", 210).attr("y", top + 52)
    .attr("font-family", sans).attr("font-size", 33).attr("fill", "#ff0000").text(redFactors[i]);
  const leg = g.append("text").attr("x", 1575).attr("y", top + 53)
    .attr("font-family", serif).attr("font-size", 37);
  leg.append("tspan").attr("fill", "#ff0000").text(redLines[i]);
  leg.append("tspan").attr("fill", "#000").text(" & " + blackLine);
});
</script>
</body></html>
